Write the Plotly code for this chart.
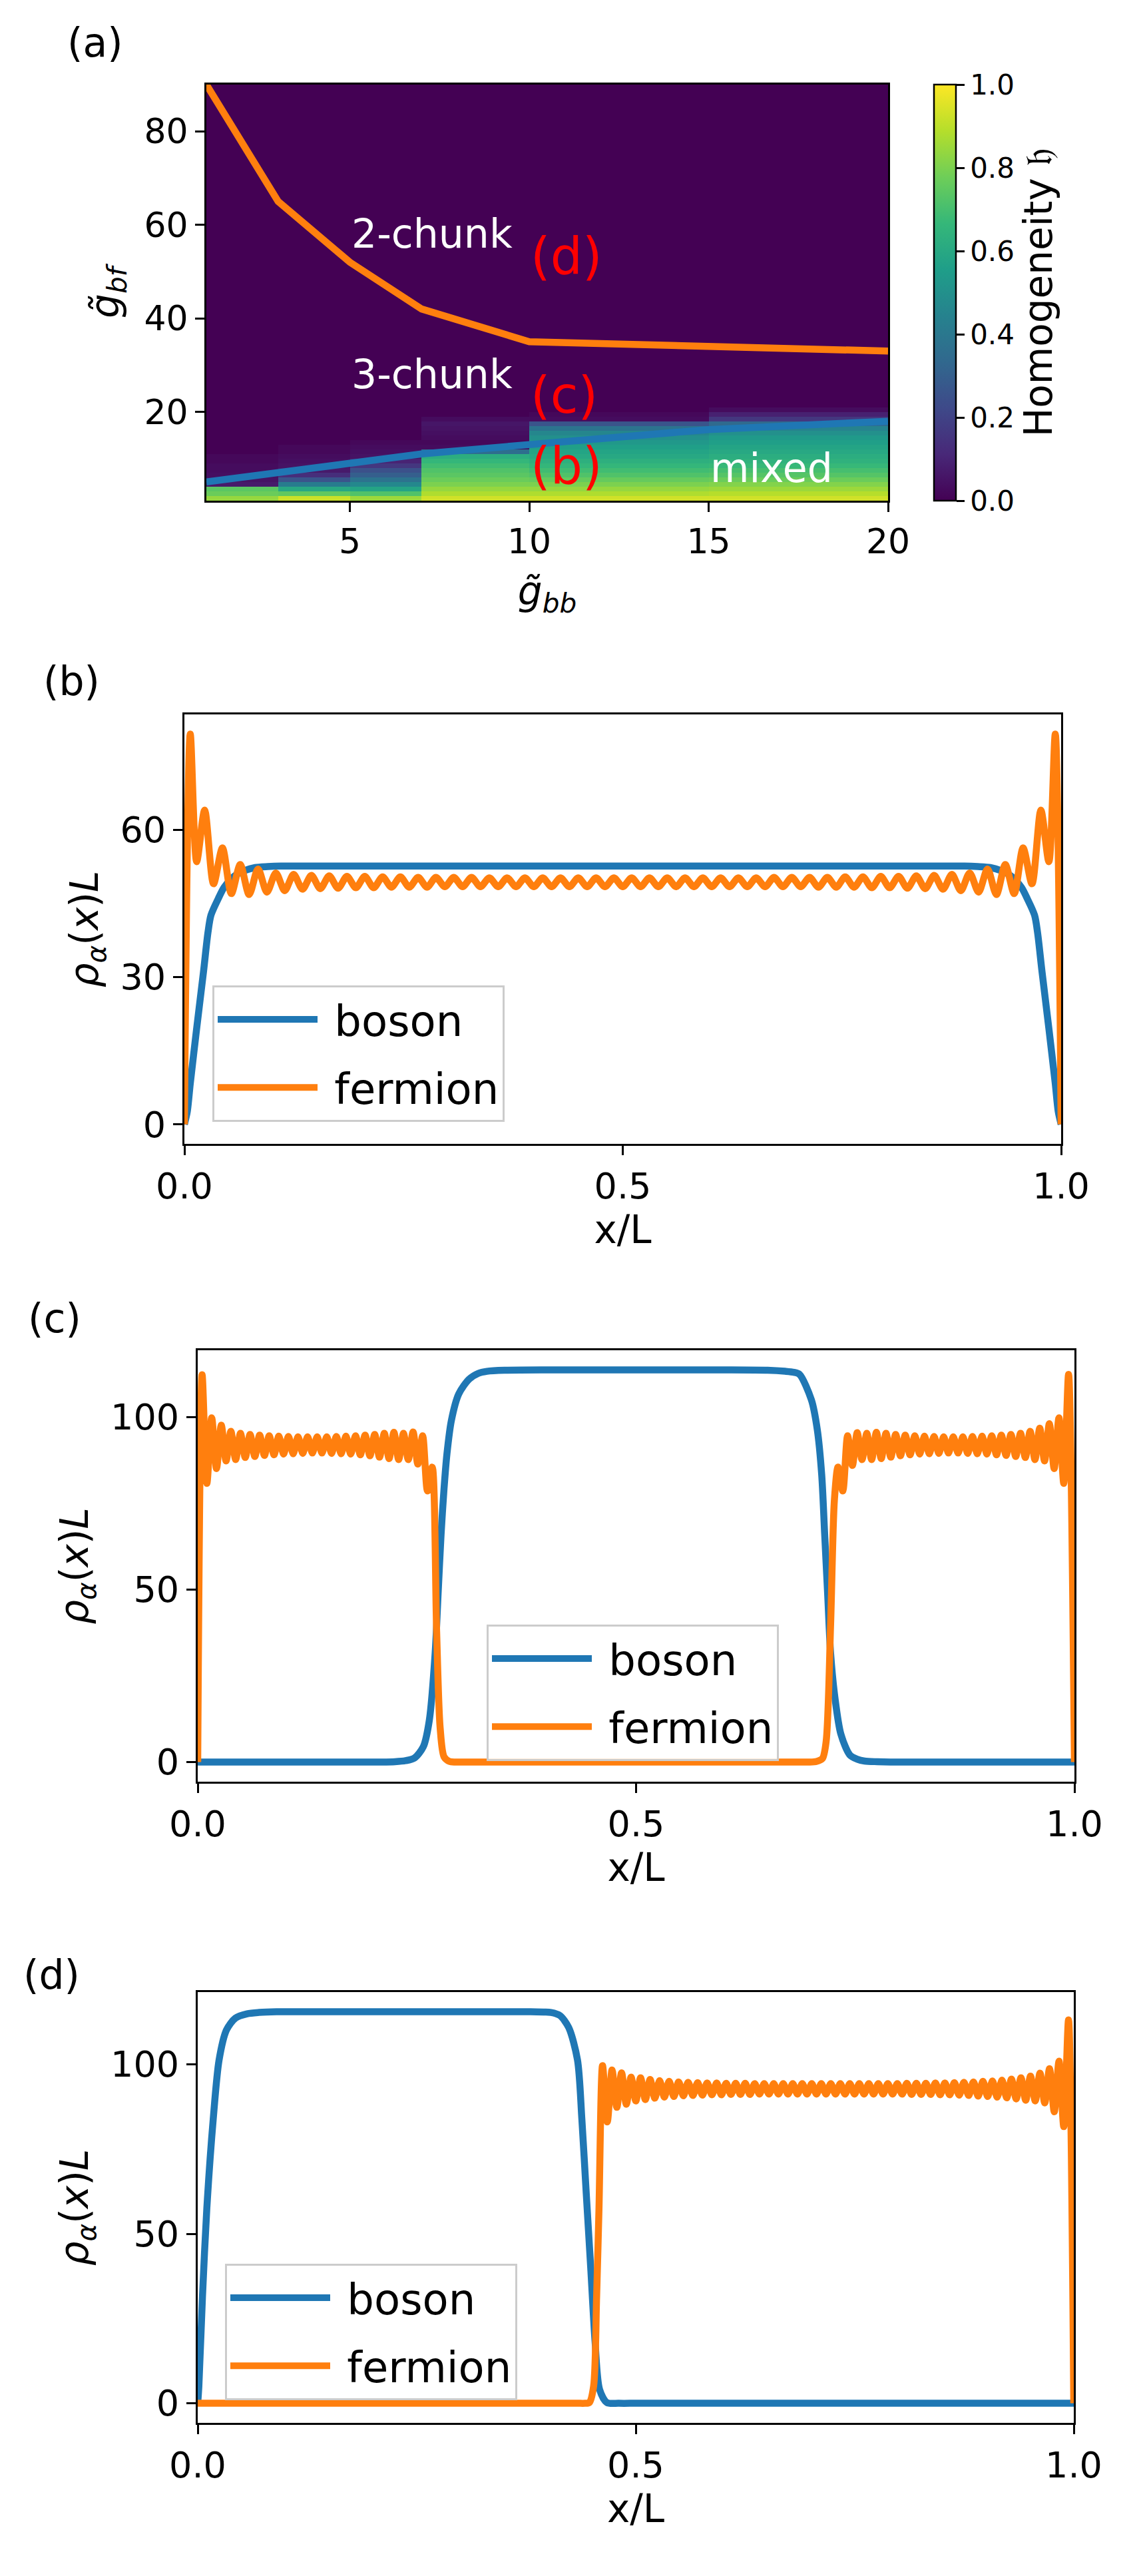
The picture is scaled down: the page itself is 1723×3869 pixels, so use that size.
import numpy as np
import plotly.graph_objects as go

W, H = 1723, 3869

# ---- (a) phase diagram ----
gbb_edges = [1, 3, 5, 7, 10, 15, 20]
gbf_edges = list(range(1, 91))

# homogeneity per g_bb column, bottom row (g_bf 1..2) upward, rest is ~0
homog_gbb_1_3 = [0.84, 0.77, 0.74, 0.07, 0.05, 0.04, 0.03, 0.03, 0.02, 0.02]
homog_gbb_3_5 = [0.92, 0.75, 0.60, 0.42, 0.26, 0.13, 0.07, 0.05, 0.04, 0.03, 0.02, 0.02]
homog_gbb_5_7 = [0.85, 0.72, 0.58, 0.47, 0.38, 0.30, 0.25, 0.16, 0.10, 0.05, 0.04, 0.03, 0.02]
homog_gbb_7_10 = [0.93, 0.88, 0.84, 0.80, 0.77, 0.74, 0.72, 0.69, 0.66, 0.62, 0.36, 0.03,
                  0.02, 0.03, 0.04, 0.05, 0.06, 0.03]
homog_gbb_10_15 = [0.93, 0.88, 0.84, 0.80, 0.76, 0.72, 0.69, 0.66, 0.63, 0.60, 0.58, 0.56,
                   0.53, 0.50, 0.46, 0.38, 0.26, 0.03, 0.02]
homog_gbb_15_20 = [0.93, 0.89, 0.85, 0.81, 0.77, 0.73, 0.70, 0.67, 0.64, 0.62, 0.60, 0.58,
                   0.56, 0.54, 0.50, 0.45, 0.34, 0.16, 0.09, 0.03]

# phase boundaries
chunk_gbb = [1, 3, 5, 7, 10, 20]
chunk_gbf = [90, 65, 52, 42, 35, 33]
mixed_gbb = [1, 3, 5, 7, 10, 15, 20]
mixed_gbf = [5.0, 6.9, 9.0, 11.0, 13.0, 16.2, 18.0]

# ---- (b) mixed ----
boson_b_x = [0.0, 0.0033, 0.0067, 0.0141, 0.0218, 0.0269, 0.0303, 0.0387, 0.0454, 0.0572,
             0.0690, 0.0807, 0.095, 0.11, 0.15, 0.2, 0.3, 0.4, 0.5, 0.6, 0.7, 0.8, 0.85,
             0.89, 0.905, 0.9193, 0.9310, 0.9428, 0.9546, 0.9613,
             0.9697, 0.9731, 0.9782, 0.9859, 0.9933, 0.9967, 1.0]
boson_b_y = [0.0, 2.6, 8.3, 19.7, 31.1, 39.1, 42.6, 46.0, 48.3, 50.6,
             51.7, 52.3, 52.5, 52.6, 52.6, 52.6, 52.6, 52.6, 52.6, 52.6, 52.6, 52.6, 52.6,
             52.6, 52.5, 52.3, 51.7, 50.6, 48.3, 46.0,
             42.6, 39.1, 31.1, 19.7, 8.3, 2.6, 0.0]

fermion_b_wall_l_x = [0.0, 0.0067, 0.0140]
fermion_b_wall_l_y = [0.0, 79.5, 53.5]
fermion_b_wall_r_x = [0.9860, 0.9933, 1.0]
fermion_b_wall_r_y = [53.5, 79.5, 0.0]
fermion_b_span = [0.0231, 0.9769]
fermion_b_peaks = [64.0, 56.3, 52.9, 52.0, 51.2, 50.9, 50.7, 50.6, 50.5, 50.5, 50.4, 50.4,
                   50.3, 50.3, 50.3, 50.3, 50.2, 50.2, 50.2, 50.2, 50.2, 50.2, 50.2, 50.2,
                   50.2, 50.2, 50.2, 50.2, 50.2, 50.2, 50.2, 50.2, 50.3, 50.3, 50.3, 50.3,
                   50.4, 50.4, 50.5, 50.5, 50.6, 50.7, 50.9, 51.2, 52.0, 52.9, 56.3, 64.0]
fermion_b_troughs = [49.0, 47.0, 46.8, 47.3, 47.6, 47.9, 48.0, 48.1, 48.2, 48.2, 48.3, 48.3,
                     48.3, 48.4, 48.4, 48.4, 48.4, 48.4, 48.4, 48.4, 48.4, 48.4, 48.4, 48.4,
                     48.4, 48.4, 48.4, 48.4, 48.4, 48.4, 48.4, 48.4, 48.4, 48.4, 48.3, 48.3,
                     48.3, 48.2, 48.2, 48.1, 48.0, 47.9, 47.6, 47.3, 46.8, 47.0, 49.0]

# ---- (c) 3-chunk ----
boson_c_x = [0.0, 0.05, 0.1, 0.15, 0.19, 0.21, 0.225, 0.237, 0.2473, 0.2574, 0.2641, 0.2708,
             0.2742, 0.2776, 0.2809, 0.2843, 0.2893, 0.2977, 0.3095, 0.32, 0.33, 0.35, 0.4,
             0.45, 0.5, 0.55, 0.6, 0.65, 0.67, 0.68, 0.6865, 0.7000, 0.7067, 0.7117,
             0.7151, 0.7185, 0.7219, 0.7269, 0.7336, 0.7437, 0.7525, 0.7606, 0.775, 0.79,
             0.82, 0.86, 0.9, 0.95, 1.0]
boson_c_y = [0.0, 0.0, 0.0, 0.0, 0.0, 0.0, 0.1, 0.4, 1.2, 4.5, 12.0, 31.5,
             48.8, 66.1, 79.1, 89.4, 99.0, 106.7, 111.0, 112.7, 113.3, 113.6, 113.7,
             113.7, 113.7, 113.7, 113.7, 113.6, 113.3, 113.0, 112.4, 105.0, 96.4, 83.4,
             66.1, 48.8, 31.5, 18.5, 8.1, 2.1, 0.8, 0.3, 0.1, 0.0,
             0.0, 0.0, 0.0, 0.0, 0.0]

fermion_c_span_l = [0.005, 0.2675]
fermion_c_peaks_l = [112.3, 99.8, 97.7, 95.9, 95.3, 95.0, 94.8, 94.6, 94.5, 94.4,
                     94.3, 94.3, 94.3, 94.3, 94.4, 94.5, 94.6, 94.8, 95.0, 95.3,
                     95.6, 95.3, 95.7, 94.6, 85.5]
fermion_c_troughs_l = [80.8, 85.1, 87.3, 87.7, 88.3, 88.6, 88.9, 89.1, 89.3, 89.4,
                       89.5, 89.6, 89.6, 89.5, 89.4, 89.3, 89.1, 88.8, 88.4, 88.0,
                       87.7, 87.7, 86.4, 78.6]
fermion_c_gap_x = [0.2725, 0.2765, 0.281, 0.287, 0.294, 0.31, 0.35, 0.4, 0.45, 0.5, 0.55,
                   0.6, 0.65, 0.685, 0.697, 0.706, 0.7125, 0.7168, 0.7219, 0.7262]
fermion_c_gap_y = [38.0, 10.0, 1.5, 0.2, 0.0, 0.0, 0.0, 0.0, 0.0, 0.0, 0.0,
                   0.0, 0.0, 0.0, 0.0, 0.2, 1.0, 6.0, 40.0, 76.0]
fermion_c_span_r = [0.7303, 0.9933]
fermion_c_peaks_r = [85.5, 94.6, 95.5, 95.3, 95.6, 95.3, 95.0, 94.8, 94.6, 94.5,
                     94.4, 94.3, 94.3, 94.3, 94.4, 94.5, 94.6, 94.8, 95.0, 95.3,
                     95.9, 96.8, 98.1, 99.8, 112.4]
fermion_c_troughs_r = [78.6, 86.0, 87.7, 87.7, 88.0, 88.4, 88.8, 89.1, 89.3, 89.4,
                       89.5, 89.6, 89.6, 89.5, 89.4, 89.3, 89.1, 88.9, 88.6, 88.3,
                       87.7, 87.3, 85.1, 80.8]

# ---- (d) 2-chunk ----
boson_d_x = [0.0, 0.0013, 0.0054, 0.0104, 0.0177, 0.0244, 0.0328, 0.0429, 0.0564, 0.07,
             0.09, 0.12, 0.16, 0.2, 0.25, 0.3, 0.35, 0.38, 0.395,
             0.4033, 0.4134, 0.4234, 0.4335, 0.4385, 0.4435, 0.4486, 0.4536, 0.4587, 0.4671,
             0.4806, 0.5, 0.55, 0.6, 0.7, 0.8, 0.9, 1.0]
boson_d_y = [0.0, 5.0, 31.3, 57.5, 83.8, 101.3, 110.1, 113.6, 114.9, 115.3,
             115.5, 115.5, 115.5, 115.5, 115.5, 115.5, 115.5, 115.5, 115.4,
             115.3, 114.4, 110.9, 101.3, 83.8, 61.9, 40.0, 18.1, 4.1, 0.2,
             0.0, 0.0, 0.0, 0.0, 0.0, 0.0, 0.0, 0.0]

fermion_d_rise_x = [0.0, 0.05, 0.1, 0.15, 0.2, 0.25, 0.3, 0.35, 0.4, 0.42, 0.434, 0.442,
                    0.447, 0.4519, 0.4553, 0.458]
fermion_d_rise_y = [0.0, 0.0, 0.0, 0.0, 0.0, 0.0, 0.0, 0.0, 0.0, 0.0, 0.0, 0.0,
                    0.2, 5.0, 31.0, 57.0]
fermion_d_span = [0.4621, 0.994]
fermion_d_peaks = [99.6, 98.3, 97.5, 96.2, 96.0, 95.5, 95.2, 95.0, 94.8, 94.7,
                   94.6, 94.5, 94.5, 94.4, 94.4, 94.4, 94.3, 94.3, 94.3, 94.3,
                   94.3, 94.3, 94.3, 94.3, 94.3, 94.3, 94.3, 94.3, 94.3, 94.3,
                   94.3, 94.3, 94.4, 94.4, 94.4, 94.5, 94.5, 94.6, 94.7, 94.8,
                   95.0, 95.1, 95.3, 95.6, 96.0, 96.5, 97.4, 98.7, 100.9, 113.1]
fermion_d_troughs = [83.0, 87.3, 88.2, 89.2, 89.6, 90.0, 90.3, 90.5, 90.7, 90.8,
                     90.9, 91.0, 91.0, 91.1, 91.1, 91.1, 91.2, 91.2, 91.2, 91.2,
                     91.2, 91.2, 91.2, 91.2, 91.2, 91.2, 91.2, 91.2, 91.2, 91.2,
                     91.2, 91.2, 91.1, 91.1, 91.1, 91.0, 91.0, 90.9, 90.8, 90.6,
                     90.5, 90.3, 90.1, 89.8, 89.4, 89.2, 88.6, 86.0, 81.6]
fermion_d_wall_x = [1.0]
fermion_d_wall_y = [0.0]

BLUE, ORANGE = "#1f77b4", "#ff7f0e"
LW = 10.5
NB = "\u00a0"


def zigzag(peaks, troughs):
    out = []
    for p, t in zip(peaks, troughs):
        out += [p, t]
    out.append(peaks[-1])
    return out


def osc(span, peaks, troughs):
    ys = zigzag(peaks, troughs)
    xs = list(np.linspace(span[0], span[1], len(ys)))
    return xs, ys


def xdom(p0, p1):
    return [p0 / W, p1 / W]


def ydom(top, bot):
    return [1 - bot / H, 1 - top / H]


fig = go.Figure()

columns = [homog_gbb_1_3, homog_gbb_3_5, homog_gbb_5_7,
           homog_gbb_7_10, homog_gbb_10_15, homog_gbb_15_20]
n_rows = len(gbf_edges) - 1
z = [[col[i] if i < len(col) else 0.0 for col in columns] for i in range(n_rows)]

fig.add_trace(go.Heatmap(
    x=gbb_edges, y=gbf_edges, z=z, colorscale="Viridis", zmin=0, zmax=1,
    xaxis="x", yaxis="y",
    colorbar=dict(
        x=1395 / W, xanchor="left", xpad=0, ypad=0,
        y=1 - 431.5 / H, yanchor="middle", len=625 / H, lenmode="fraction",
        thickness=33, outlinewidth=2.5, outlinecolor="black",
        ticks="outside", ticklen=12, tickwidth=2.5, tickcolor="black",
        tickvals=[0, 0.2, 0.4, 0.6, 0.8, 1.0], tickformat=".1f",
        tickfont=dict(size=42),
        title=dict(text="Homogeneity 𝔥", side="right", font=dict(size=58)),
    ),
))
fig.add_trace(go.Scatter(x=chunk_gbb, y=chunk_gbf, mode="lines", xaxis="x", yaxis="y",
                         line=dict(color=ORANGE, width=LW), showlegend=False))
fig.add_trace(go.Scatter(x=mixed_gbb, y=mixed_gbf, mode="lines", xaxis="x", yaxis="y",
                         line=dict(color=BLUE, width=LW), showlegend=False))

# (b)
xb, yb = osc(fermion_b_span, fermion_b_peaks, fermion_b_troughs)
fb_x = fermion_b_wall_l_x + xb + fermion_b_wall_r_x
fb_y = fermion_b_wall_l_y + yb + fermion_b_wall_r_y

# (c)
xcl, ycl = osc(fermion_c_span_l, fermion_c_peaks_l, fermion_c_troughs_l)
xcr, ycr = osc(fermion_c_span_r, fermion_c_peaks_r, fermion_c_troughs_r)
fc_x = [0.0] + xcl + fermion_c_gap_x + xcr + [1.0]
fc_y = [0.0] + ycl + fermion_c_gap_y + ycr + [0.0]

# (d)
xd, yd = osc(fermion_d_span, fermion_d_peaks, fermion_d_troughs)
fd_x = fermion_d_rise_x + xd + fermion_d_wall_x
fd_y = fermion_d_rise_y + yd + fermion_d_wall_y

panels = [
    ("x2", "y2", "legend", boson_b_x, boson_b_y, fb_x, fb_y),
    ("x3", "y3", "legend2", boson_c_x, boson_c_y, fc_x, fc_y),
    ("x4", "y4", "legend3", boson_d_x, boson_d_y, fd_x, fd_y),
]
for xa, ya, leg, bx, by, fx, fy in panels:
    fig.add_trace(go.Scatter(x=bx, y=by, mode="lines", name=NB + "boson",
                             xaxis=xa, yaxis=ya, legend=leg, legendgroup=leg + "b",
                             line=dict(color=BLUE, width=LW, shape="spline", smoothing=0.8)))
    fig.add_trace(go.Scatter(x=fx, y=fy, mode="lines", name=NB + "fermion",
                             xaxis=xa, yaxis=ya, legend=leg, legendgroup=leg + "f",
                             line=dict(color=ORANGE, width=LW, shape="spline",
                                       smoothing=0.8)))

ax = dict(showline=True, linecolor="black", linewidth=3, mirror=True, automargin=False,
          ticks="outside", ticklen=14, tickwidth=3, tickcolor="black",
          showgrid=False, zeroline=False, tickfont=dict(size=54))
xlab = "x/L"
ylab = "<i>ρ</i><sub><i>α</i></sub>(<i>x</i>)<i>L</i>"

leg_style = dict(xanchor="left", yanchor="top", font=dict(size=64),
                 bgcolor="rgba(255,255,255,0.8)", bordercolor="#cccccc",
                 borderwidth=3, itemwidth=150, tracegroupgap=16)

fig.update_layout(
    template="plotly_white",
    width=W, height=H,
    margin=dict(l=0, r=0, t=0, b=0, autoexpand=False),
    paper_bgcolor="white", plot_bgcolor="white",
    font=dict(family="DejaVu Sans", color="black", size=54),
    xaxis=dict(ax, domain=xdom(302, 1326), range=[1, 20], tickvals=[5, 10, 15, 20],
               tickfont=dict(size=52),
               title=dict(text="<i>g̃</i><sub><i>bb</i></sub>", font=dict(size=58), standoff=25)),
    yaxis=dict(ax, domain=ydom(119, 744), range=[1, 90], tickvals=[20, 40, 60, 80],
               tickfont=dict(size=52),
               title=dict(text="<i>g̃</i><sub><i>bf</i></sub>", font=dict(size=58), standoff=20)),
    xaxis2=dict(ax, domain=xdom(269, 1586), range=[0, 1], anchor="y2",
                tickvals=[0, 0.5, 1], tickformat=".1f",
                title=dict(text=xlab, font=dict(size=58), standoff=10)),
    yaxis2=dict(ax, domain=ydom(1065, 1710), range=[-3.98, 83.5], anchor="x2",
                tickvals=[0, 30, 60],
                title=dict(text=ylab, font=dict(size=58), standoff=15)),
    xaxis3=dict(ax, domain=xdom(289, 1606), range=[0, 1], anchor="y3",
                tickvals=[0, 0.5, 1], tickformat=".1f",
                title=dict(text=xlab, font=dict(size=58), standoff=10)),
    yaxis3=dict(ax, domain=ydom(2020, 2668), range=[-5.69, 119.4], anchor="x3",
                tickvals=[0, 50, 100],
                title=dict(text=ylab, font=dict(size=58), standoff=15)),
    xaxis4=dict(ax, domain=xdom(289, 1605), range=[0, 1], anchor="y4",
                tickvals=[0, 0.5, 1], tickformat=".1f",
                title=dict(text=xlab, font=dict(size=58), standoff=10)),
    yaxis4=dict(ax, domain=ydom(2984, 3631), range=[-5.78, 121.3], anchor="x4",
                tickvals=[0, 50, 100],
                title=dict(text=ylab, font=dict(size=58), standoff=15)),
    legend=dict(leg_style, x=311 / W, y=1 - 1472 / H),
    legend2=dict(leg_style, x=723 / W, y=1 - 2432 / H),
    legend3=dict(leg_style, x=330 / W, y=1 - 3392 / H),
)

# panel letters
for label, px, py in [("(a)", 135, 56), ("(b)", 99, 1015), ("(c)", 74, 1972), ("(d)", 69, 2958)]:
    fig.add_annotation(text=label, x=px / W, y=1 - py / H, xref="paper", yref="paper",
                       xanchor="center", yanchor="middle", showarrow=False,
                       font=dict(size=60, color="black"))

# phase labels inside (a)
for text, gx, gy, color, size in [
    ("2-chunk", 5, 58.1, "white", 60),
    ("3-chunk", 5, 28.1, "white", 60),
    ("mixed", 15, 8.0, "white", 60),
    ("(d)", 10, 53.3, "red", 76),
    ("(c)", 10, 23.5, "red", 76),
    ("(b)", 10, 8.5, "red", 76),
]:
    fig.add_annotation(text=text, x=gx, y=gy, xref="x", yref="y", xanchor="left",
                       yanchor="middle", showarrow=False, font=dict(size=size, color=color))

fig.write_html("out.html")
